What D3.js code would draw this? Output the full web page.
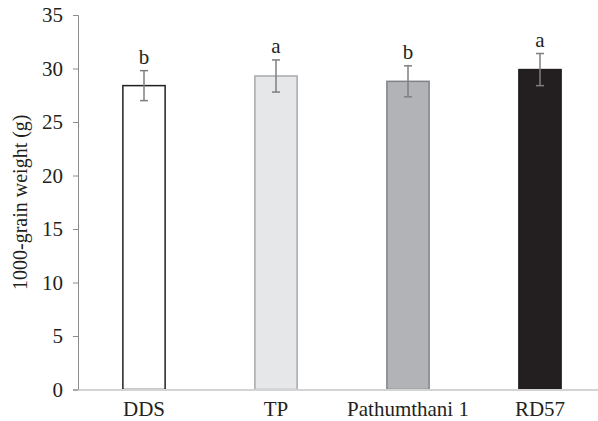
<!DOCTYPE html>
<html>
<head>
<meta charset="utf-8">
<script src="https://cdn.jsdelivr.net/npm/d3@7"></script>
<style>
  body { margin: 0; background: #fff; }
  svg { display: block; font-family: "Liberation Serif", "Times New Roman", serif; }
</style>
</head>
<body>
<div id="chart"></div>
<script>
const categories = ['DDS', 'TP', 'Pathumthani 1', 'RD57']
const values = [28.4, 29.3, 28.8, 29.9]
const errors = [1.4, 1.5, 1.45, 1.5]
const letters = ['b', 'a', 'b', 'a']
const yTicks = [0, 5, 10, 15, 20, 25, 30, 35]

const fills = ['#ffffff', '#e6e7e8', '#b1b3b6', '#231f20']
const strokes = ['#231f20', '#a7a9ac', '#808285', '#231f20']

const width = 598, height = 421
const plotLeft = 78, plotTop = 15, plotBottom = 389.5
const fontSize = 21

const svg = d3.select('#chart').append('svg')
  .attr('width', width)
  .attr('height', height)

const x = d3.scaleBand()
  .domain(categories)
  .range([plotLeft, 606])
  .paddingInner(0.68)
  .paddingOuter(0.34)

const y = d3.scaleLinear()
  .domain([0, 35])
  .range([plotBottom, plotTop])

// y axis
const yAxis = svg.append('g')
  .attr('transform', `translate(${plotLeft},0)`)
  .call(d3.axisLeft(y).tickValues(yTicks).tickSize(5).tickPadding(10).tickSizeOuter(5))
yAxis.select('.domain').attr('stroke', '#8c8c8c').attr('stroke-width', 1)
yAxis.selectAll('.tick line').attr('stroke', '#8c8c8c')
yAxis.selectAll('.tick text')
  .attr('font-size', fontSize)
  .attr('fill', '#231f20')
  .attr('font-family', '"Liberation Serif", serif')

// bars
svg.selectAll('rect.bar')
  .data(values)
  .enter()
  .append('rect')
  .attr('class', 'bar')
  .attr('x', (d, i) => x(categories[i]))
  .attr('y', d => y(d))
  .attr('width', x.bandwidth())
  .attr('height', d => plotBottom - y(d))
  .attr('fill', (d, i) => fills[i])
  .attr('stroke', (d, i) => strokes[i])
  .attr('stroke-width', 1.5)

// x axis
const xAxis = svg.append('g')
  .attr('transform', `translate(0,${plotBottom})`)
  .call(d3.axisBottom(x).tickSize(0).tickPadding(12))
xAxis.select('.domain').attr('stroke', '#d4d4d4').attr('stroke-width', 2)
xAxis.selectAll('.tick text')
  .attr('font-size', fontSize)
  .attr('fill', '#231f20')
  .attr('font-family', '"Liberation Serif", serif')

// error bars
const err = svg.append('g').attr('stroke', '#7f7f7f').attr('stroke-width', 1.5)
values.forEach((v, i) => {
  const cx = x(categories[i]) + x.bandwidth() / 2
  err.append('line').attr('x1', cx).attr('x2', cx).attr('y1', y(v + errors[i])).attr('y2', y(v - errors[i]))
  err.append('line').attr('x1', cx - 4).attr('x2', cx + 4).attr('y1', y(v + errors[i])).attr('y2', y(v + errors[i]))
  err.append('line').attr('x1', cx - 4).attr('x2', cx + 4).attr('y1', y(v - errors[i])).attr('y2', y(v - errors[i]))
})

// significance letters
svg.selectAll('text.sig')
  .data(letters)
  .enter()
  .append('text')
  .attr('class', 'sig')
  .attr('x', (d, i) => x(categories[i]) + x.bandwidth() / 2)
  .attr('y', (d, i) => y(values[i] + errors[i]) - 7)
  .attr('text-anchor', 'middle')
  .attr('font-size', fontSize)
  .attr('fill', '#231f20')
  .text(d => d)

// y label
svg.append('text')
  .attr('transform', `translate(27,${(plotTop + plotBottom) / 2}) rotate(-90)`)
  .attr('text-anchor', 'middle')
  .attr('font-size', 20)
  .attr('fill', '#231f20')
  .text('1000-grain weight (g)')
</script>
</body>
</html>
